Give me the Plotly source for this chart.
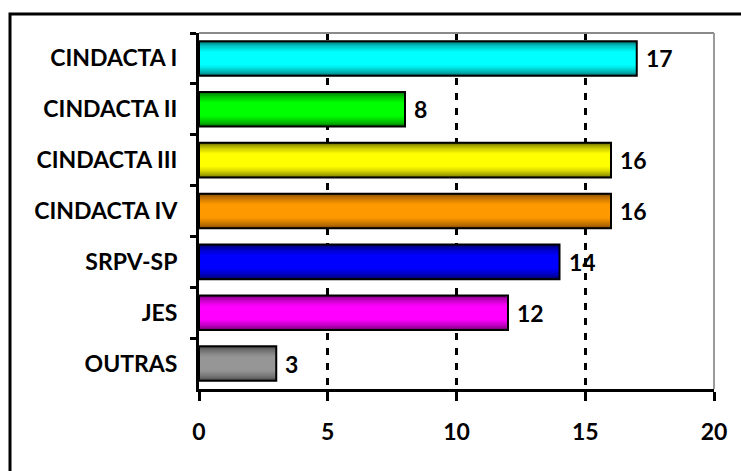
import plotly.graph_objects as go

categories = ["CINDACTA I", "CINDACTA II", "CINDACTA III", "CINDACTA IV", "SRPV-SP", "JES", "OUTRAS"]
values = [17, 8, 16, 16, 14, 12, 3]
x_ticks = [0, 5, 10, 15, 20]

# style: bright centre colour and dark edge colour for each bar
bright = [(0, 255, 255), (0, 255, 0), (255, 255, 0), (255, 153, 0), (0, 0, 255), (255, 0, 255), (150, 150, 150)]
dark = [(0, 100, 100), (0, 100, 0), (100, 100, 0), (115, 65, 0), (0, 0, 90), (100, 0, 100), (65, 65, 65)]

FONT = "Lato"
FSIZE = 23
BAR_W = 0.68
N_LAYERS = 9


def mix(a, b, t):
    return "rgb({},{},{})".format(*[int(round(a[k] + (b[k] - a[k]) * t)) for k in range(3)])


fig = go.Figure()
for i in range(N_LAYERS):
    f = i / (N_LAYERS - 1)
    w = BAR_W * (1 - 0.6 * f)
    t = min(1.0, f ** 0.55)
    fig.add_trace(go.Bar(
        y=categories, x=values, orientation="h",
        width=[w] * len(values),
        marker=dict(color=[mix(dark[j], bright[j], t) for j in range(len(values))], line=dict(width=0)),
        hoverinfo="skip", showlegend=False,
    ))

# outline layer
fig.add_trace(go.Bar(
    y=categories, x=values, orientation="h",
    width=[BAR_W] * len(values),
    marker=dict(color="rgba(0,0,0,0)", line=dict(color="black", width=2)),
    hoverinfo="skip", showlegend=False,
))

for c, v in zip(categories, values):
    fig.add_annotation(x=v, y=c, text=str(v), showarrow=False, xanchor="left", xshift=7,
                       font=dict(family=FONT, size=FSIZE, color="black", weight="bold"))

fig.update_layout(
    width=741, height=471,
    margin=dict(l=199, r=27, t=33, b=82),
    paper_bgcolor="white", plot_bgcolor="white",
    barmode="overlay",
    font=dict(family=FONT, size=FSIZE, color="black", weight="bold"),
    xaxis=dict(
        range=[0, 20], tickvals=x_ticks, ticktext=[str(v) for v in x_ticks],
        showgrid=True, gridcolor="black", gridwidth=3, griddash="7px,8px",
        showline=True, linecolor="black", linewidth=3,
        ticks="outside", ticklen=9, tickwidth=3, tickcolor="black",
        ticklabelstandoff=11, zeroline=False,
        tickfont=dict(family=FONT, size=FSIZE, color="black", weight="bold"),
    ),
    yaxis=dict(
        categoryorder="array", categoryarray=categories, autorange="reversed",
        showgrid=False, showline=True, linecolor="black", linewidth=3,
        ticks="outside", ticklen=6, tickwidth=3, tickcolor="black",
        tickson="boundaries", ticklabelstandoff=14,
        tickfont=dict(family=FONT, size=FSIZE, color="black", weight="bold"),
    ),
    shapes=[
        dict(type="line", xref="paper", yref="paper", x0=0, x1=1, y0=1, y1=1,
             line=dict(color="#8a8a8a", width=2)),
        dict(type="line", xref="paper", yref="paper", x0=1, x1=1, y0=0, y1=1,
             line=dict(color="#9a9a9a", width=2)),
        dict(type="rect", xref="paper", yref="paper",
             x0=(10 - 199) / 515, x1=(760 - 199) / 515,
             y0=(389 - 500) / 356, y1=(389 - 14) / 356,
             line=dict(color="black", width=3), fillcolor="rgba(0,0,0,0)", layer="above"),
    ],
)

fig.write_html("out.html")
